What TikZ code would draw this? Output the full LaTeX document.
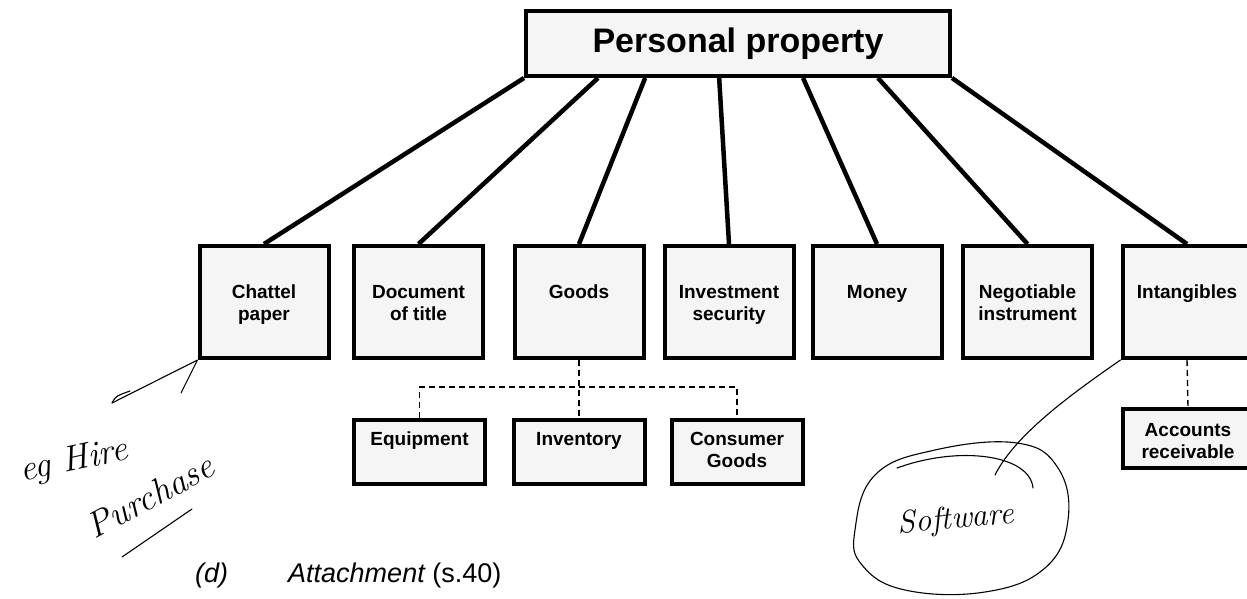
\documentclass[tikz,border=0pt]{standalone}
\usepackage{fontspec}
\newfontfamily\arial{Liberation Sans}
\usetikzlibrary{calc}
\begin{document}
\begin{tikzpicture}[x=1pt,y=-1pt,
  box/.style={draw, line width=4pt, fill=black!4, inner sep=0pt,
    minimum width=129pt, minimum height=112pt},
  subbox/.style={box, minimum width=131pt, minimum height=64pt},
  toplbl/.style={anchor=north, yshift=-41pt, align=center, inner sep=0pt,
    font=\arial\bfseries\fontsize{19}{22}\selectfont},
  sublbl/.style={toplbl, yshift=27pt},
  conn/.style={line width=4.5pt},
  dashline/.style={line width=1.4pt, dash pattern=on 6pt off 4pt},
  hand/.style={line width=1.1pt, line cap=round, line join=round},
  handtext/.style={font=\itshape\fontsize{36}{40}\selectfont, inner sep=0pt}]

\useasboundingbox (0,0) rectangle (1247,599);

% root of the tree
\node[box, minimum width=424pt, minimum height=65pt,
  font=\arial\bfseries\fontsize{34}{40}\selectfont] (top) at (738,43.5) {Personal property};

% first level
\node[box, label={[toplbl]north:{Chattel\\paper}}] (chattel) at (264,302) {};
\node[box, label={[toplbl]north:{Document\\of title}}] (doc) at (418.5,302) {};
\node[box, label={[toplbl]north:{Goods}}] (goods) at (579,302) {};
\node[box, label={[toplbl]north:{Investment\\security}}] (invest) at (729,302) {};
\node[box, label={[toplbl]north:{Money}}] (money) at (877,302) {};
\node[box, label={[toplbl]north:{Negotiable\\instrument}}] (negot) at (1027.5,302) {};
\node[box, label={[toplbl]north:{Intangibles}}] (intang) at (1187,302) {};

% second level
\node[subbox, label={[sublbl]north:{Equipment}}] (equip) at (419.5,452) {};
\node[subbox, label={[sublbl]north:{Inventory}}] (invent) at (579,452) {};
\node[subbox, label={[sublbl]north:{Consumer\\Goods}}] (cons) at (737,452) {};
\node[subbox, minimum width=130pt, minimum height=59pt,
  label={[sublbl, yshift=-2pt]north:{Accounts\\receivable}}] (accts) at (1188,438.5) {};

% solid connectors from the root
\draw[conn] (top.south west) -- (chattel.north);
\draw[conn] ($(top.south west)!.173!(top.south east)$) -- (doc.north);
\draw[conn] ($(top.south west)!.283!(top.south east)$) -- (goods.north);
\draw[conn] ($(top.south west)!.456!(top.south east)$) -- (invest.north);
\draw[conn] ($(top.south west)!.652!(top.south east)$) -- (money.north);
\draw[conn] ($(top.south west)!.827!(top.south east)$) -- (negot.north);
\draw[conn] (top.south east) -- (intang.north);

% dashed sub-classification
\coordinate (bus) at (0,387);
\draw[dashline] (goods.south) -- (invent.north);
\draw[dashline] (equip.north) -- (equip.north |- bus) -- (cons.north |- bus) -- (cons.north);
\draw[dashline] (intang.south) -- (accts.north);

% handwritten notes
\coordinate (hpA) at (112,403);
\coordinate (hpB) at (181,393);
\draw[hand] (hpA) -- (chattel.south west) -- (hpB);
\draw[hand] (hpA) .. controls (116,396) .. (130,391);
\node[handtext, rotate=12] (eg) at (74,462) {eg Hire};
\node[handtext, rotate=28] (purch) at (150,496) {Purchase};
\draw[hand] (122,557) -- (192,509);

\node[handtext, rotate=5, font=\itshape\fontsize{32}{36}\selectfont] (soft) at (956,520) {Software};
\draw[hand] plot[smooth cycle, tension=.7] coordinates {(855,530) (875,475) (935,450) (1017,443)
  (1058,468) (1068,520) (1045,568) (985,592) (905,590) (862,565)};
\draw[hand] (897,468) .. controls (960,445) and (1030,455) .. (1033,488);
\coordinate (swend) at (995,475);
\draw[hand] (intang.south west) .. controls (1070,395) and (1015,435) .. (swend);

% running text below
\node[anchor=base west, inner sep=0pt, font=\arial\itshape\fontsize{27}{30}\selectfont] (dlab) at (195,582) {(d)};
\node[anchor=base west, inner sep=0pt, font=\arial\itshape\fontsize{27}{30}\selectfont] (attach) at (288,582) {Attachment {\upshape(s.40)}};
\end{tikzpicture}
\end{document}
